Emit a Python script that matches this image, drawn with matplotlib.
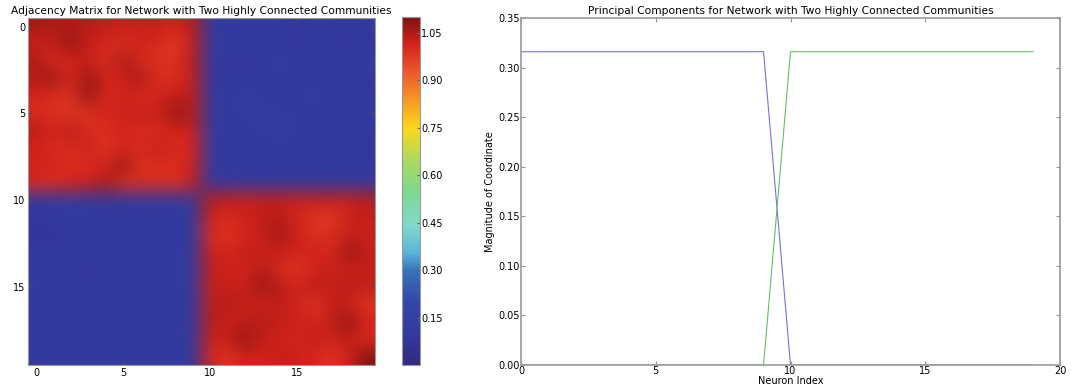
import numpy as np
import matplotlib
matplotlib.use("Agg")
import matplotlib.pyplot as plt
from matplotlib.colors import LinearSegmentedColormap, Normalize
from matplotlib.cm import ScalarMappable
from matplotlib.ticker import FormatStrFormatter

# ---------------- data ----------------
adjacency = [
    [1.06,1.05,1.05,1.04,1.03,1.03,1.02,1.03,1.01,1.04, 0.10,0.10,0.11,0.10,0.10,0.09,0.10,0.10,0.09,0.10],
    [1.02,1.03,1.08,1.02,1.01,0.99,1.02,1.00,0.97,1.03, 0.11,0.10,0.11,0.10,0.11,0.07,0.11,0.10,0.08,0.10],
    [1.05,1.00,1.01,1.03,0.99,1.06,1.00,0.99,0.99,1.04, 0.11,0.10,0.07,0.11,0.12,0.11,0.10,0.11,0.10,0.11],
    [1.04,1.07,1.00,1.08,1.01,1.02,1.06,0.99,1.00,1.03, 0.10,0.08,0.11,0.09,0.11,0.11,0.10,0.11,0.08,0.10],
    [1.01,0.99,0.99,1.08,1.00,1.02,1.00,1.01,1.03,1.03, 0.11,0.11,0.12,0.11,0.10,0.11,0.12,0.10,0.11,0.10],
    [1.00,0.99,0.98,0.98,1.01,1.02,1.03,1.02,1.08,1.04, 0.10,0.11,0.11,0.12,0.11,0.11,0.10,0.11,0.09,0.11],
    [1.04,1.01,1.04,1.00,0.99,1.01,1.00,1.00,1.01,1.02, 0.11,0.10,0.11,0.11,0.12,0.11,0.11,0.10,0.11,0.10],
    [1.01,1.00,0.99,1.02,0.98,1.01,1.00,1.03,1.00,1.01, 0.11,0.08,0.09,0.11,0.10,0.11,0.11,0.10,0.11,0.09],
    [1.02,1.01,1.00,1.00,1.01,1.07,0.98,1.00,0.99,1.02, 0.10,0.11,0.11,0.10,0.11,0.10,0.11,0.11,0.10,0.10],
    [1.00,1.00,1.01,1.02,1.05,0.99,1.00,0.99,0.99,1.03, 0.10,0.10,0.10,0.09,0.09,0.10,0.10,0.09,0.10,0.10],
    [0.10,0.10,0.11,0.10,0.10,0.10,0.11,0.10,0.10,0.10, 1.04,1.03,1.02,1.03,1.03,1.02,1.03,1.03,1.02,1.04],
    [0.09,0.11,0.10,0.11,0.10,0.08,0.11,0.08,0.11,0.10, 1.02,1.00,1.02,1.03,1.04,1.01,0.98,0.97,1.02,1.03],
    [0.08,0.07,0.11,0.11,0.10,0.11,0.10,0.11,0.10,0.10, 1.00,0.98,1.01,1.03,1.06,1.02,0.99,1.00,1.03,1.02],
    [0.11,0.10,0.11,0.10,0.11,0.11,0.10,0.08,0.11,0.10, 1.02,1.01,1.03,1.02,1.03,1.01,1.02,1.00,1.07,1.03],
    [0.11,0.11,0.10,0.07,0.11,0.10,0.11,0.10,0.11,0.11, 1.03,1.02,1.01,1.04,1.00,0.98,1.01,1.03,1.02,1.03],
    [0.11,0.10,0.11,0.11,0.08,0.11,0.11,0.10,0.11,0.10, 1.02,1.03,1.02,1.07,1.04,1.01,1.04,1.02,1.04,1.03],
    [0.10,0.11,0.11,0.10,0.11,0.11,0.10,0.11,0.10,0.10, 1.03,1.04,1.03,1.02,1.03,1.02,0.98,1.03,1.02,0.98],
    [0.11,0.08,0.11,0.11,0.10,0.11,0.11,0.10,0.11,0.10, 1.04,1.02,1.03,1.04,1.03,1.02,1.01,1.03,1.08,1.01],
    [0.10,0.11,0.10,0.11,0.11,0.10,0.11,0.11,0.10,0.11, 1.02,1.03,1.08,1.03,1.02,1.01,1.03,1.02,1.03,1.00],
    [0.10,0.10,0.11,0.11,0.10,0.11,0.10,0.11,0.10,0.10, 1.01,0.98,1.02,1.01,1.03,1.02,1.01,0.98,1.02,1.09],
]
colorbar_ticks = [0.15, 0.30, 0.45, 0.60, 0.75, 0.90, 1.05]
color_min, color_max = 0.0, 1.10

neuron_index = list(range(20))
pc1 = [0.316]*10 + [0.0]*10
pc2 = [0.0]*10 + [0.316]*10

# ---------------- style ----------------
cmap = LinearSegmentedColormap.from_list("washed_jet", [
    (0.00, (0.20, 0.16, 0.50)),
    (0.08, (0.20, 0.22, 0.62)),
    (0.18, (0.20, 0.28, 0.66)),
    (0.27, (0.22, 0.45, 0.72)),
    (0.32, (0.35, 0.70, 0.85)),
    (0.40, (0.50, 0.85, 0.80)),
    (0.50, (0.50, 0.85, 0.55)),
    (0.58, (0.65, 0.85, 0.40)),
    (0.68, (0.98, 0.85, 0.10)),
    (0.76, (0.97, 0.60, 0.15)),
    (0.84, (0.93, 0.35, 0.18)),
    (0.92, (0.84, 0.14, 0.11)),
    (1.00, (0.50, 0.07, 0.07)),
])
norm = Normalize(vmin=color_min, vmax=color_max)

W, H = 1075, 389
fig = plt.figure(figsize=(W/100, H/100), dpi=100, facecolor="white")

def fx(px): return px / W
def fy(py): return 1 - py / H

spine_col = (0.6, 0.6, 0.6)
tfs = 7.7
lfs = 7.0

# ---------------- left: adjacency image ----------------
ax1 = fig.add_axes([fx(28), fy(365), fx(375) - fx(28), fy(18) - fy(365)])
M = np.array(adjacency)
rgba = cmap(norm(M))
ax1.imshow(rgba, interpolation="bicubic", interpolation_stage="rgba", aspect="auto")
ax1.set_xticks([0, 5, 10, 15])
ax1.set_yticks([0, 5, 10, 15])
ax1.tick_params(direction="in", top=True, right=True, labelsize=lfs, length=3,
                color=(0.3, 0.3, 0.3), pad=2)
for s in ax1.spines.values():
    s.set_color(spine_col)
ax1.set_title("Adjacency Matrix for Network with Two Highly Connected Communities",
              fontsize=tfs, pad=3)

cax = fig.add_axes([fx(402), fy(365), fx(420) - fx(402), fy(17) - fy(365)])
sm = ScalarMappable(norm=norm, cmap=cmap)
cb = fig.colorbar(sm, cax=cax)
cb.set_ticks(colorbar_ticks)
cb.set_ticklabels([f"{t:.2f}" for t in colorbar_ticks])
cb.ax.tick_params(labelsize=lfs, direction="in", length=2, pad=1, color=(0.4, 0.4, 0.4))
cb.outline.set_edgecolor(spine_col)

# ---------------- right: principal components ----------------
ax2 = fig.add_axes([fx(521), fy(365), fx(1060) - fx(521), fy(18) - fy(365)])
ax2.plot(neuron_index, pc1, color=(0.45, 0.45, 0.85), lw=0.8)
ax2.plot(neuron_index, pc2, color=(0.40, 0.75, 0.40), lw=0.8)
ax2.set_xlim(0, 20)
ax2.set_ylim(0, 0.35)
ax2.set_xticks([0, 5, 10, 15, 20])
ax2.set_yticks(np.arange(0, 0.351, 0.05))
ax2.yaxis.set_major_formatter(FormatStrFormatter("%.2f"))
ax2.tick_params(direction="in", top=True, right=True, labelsize=lfs, length=3,
                color=spine_col, pad=1)
for s in ax2.spines.values():
    s.set_color(spine_col)
    s.set_linewidth(1.2)
ax2.set_title("Principal Components for Network with Two Highly Connected Communities",
              fontsize=tfs, pad=3)
ax2.set_xlabel("Neuron Index", fontsize=lfs, labelpad=0)
ax2.set_ylabel("Magnitude of Coordinate", fontsize=lfs, labelpad=2)

fig.savefig("out.png", dpi=100, facecolor="white")
